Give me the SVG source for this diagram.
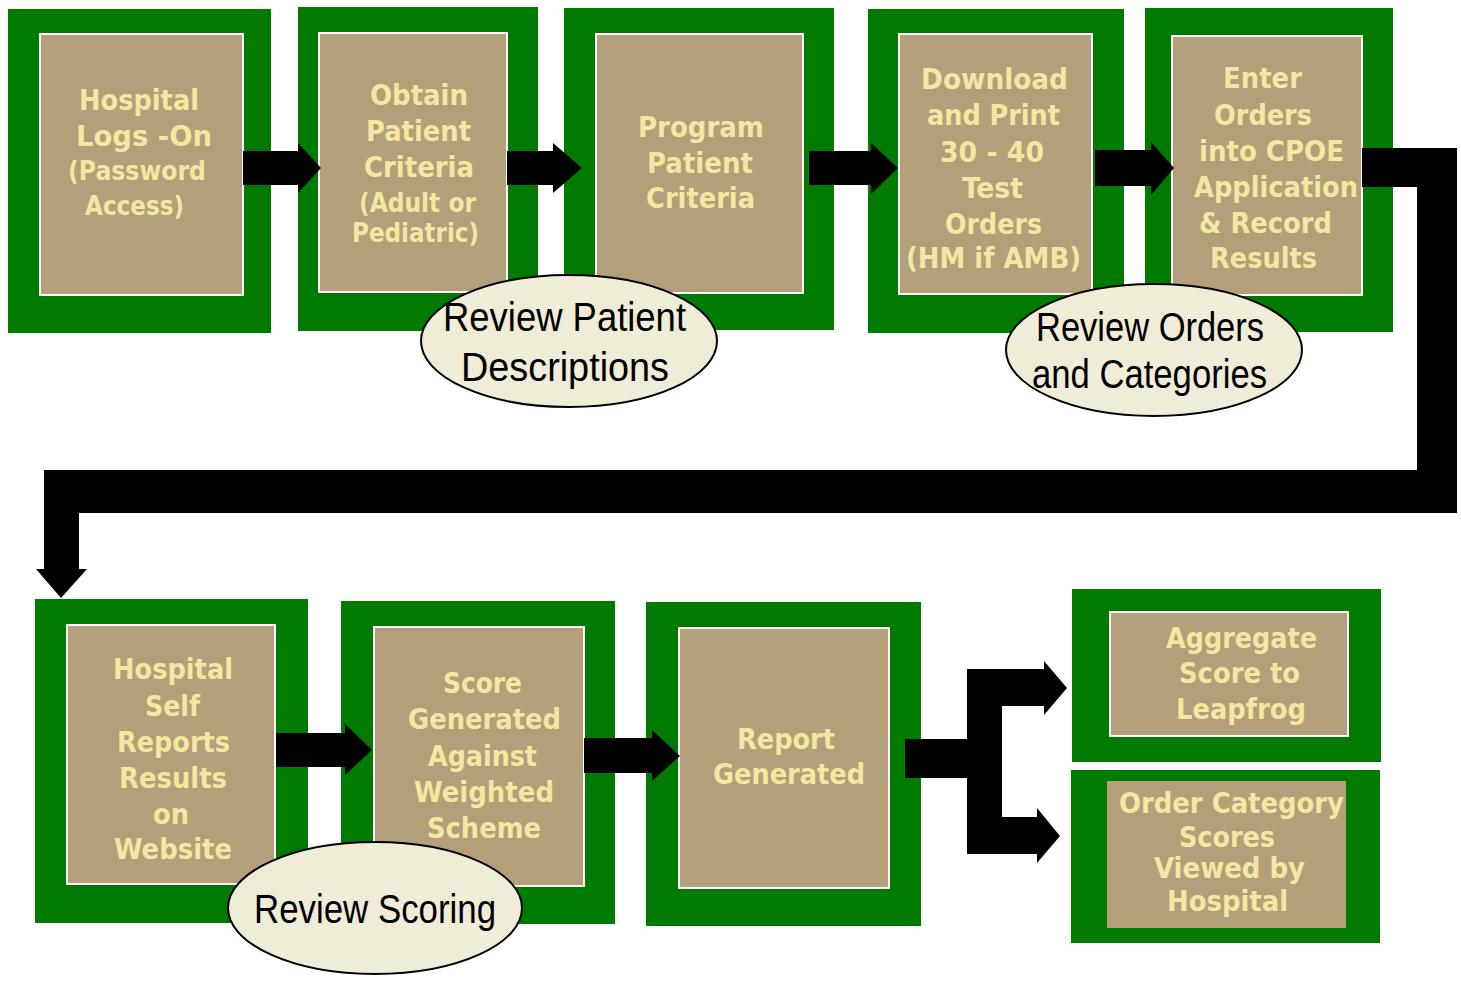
<svg xmlns="http://www.w3.org/2000/svg" width="1461" height="981" viewBox="0 0 1461 981">
  <style>
    .frame { fill: #007B00; }
    .panel { fill: #B39F7A; stroke: #FFFFFF; stroke-width: 2; }
    .panel-plain { fill: #B39F7A; }
    .label { font-family: "DejaVu Sans Condensed", "DejaVu Sans", sans-serif; font-weight: bold; fill: #F2E8A2; font-size: 28px; }
    .small { font-size: 26px; }
    .flow { fill: #000000; }
    .note { fill: #EFEDD8; stroke: #000000; stroke-width: 2; }
    .note-text { font-family: "Liberation Sans", Arial, sans-serif; fill: #000000; font-size: 40px; }
  </style>

  <!-- Process step boxes -->
  <g id="step-login">
    <rect class="frame" x="8" y="9" width="263" height="324"/>
    <rect class="panel" x="40" y="34" width="203" height="261"/>
    <text class="label" x="79" y="110" textLength="120" lengthAdjust="spacingAndGlyphs">Hospital</text>
    <text class="label" x="76" y="146" textLength="136" lengthAdjust="spacingAndGlyphs">Logs  -On</text>
    <text class="label small" x="68" y="180" textLength="138" lengthAdjust="spacingAndGlyphs">(Password</text>
    <text class="label small" x="85" y="215" textLength="99" lengthAdjust="spacingAndGlyphs">Access)</text>
  </g>

  <g id="step-obtain">
    <rect class="frame" x="298" y="7" width="240" height="324"/>
    <rect class="panel" x="319" y="33" width="188" height="259"/>
    <text class="label" x="370" y="105" textLength="98" lengthAdjust="spacingAndGlyphs">Obtain</text>
    <text class="label" x="366" y="141" textLength="105" lengthAdjust="spacingAndGlyphs">Patient</text>
    <text class="label" x="364" y="177" textLength="110" lengthAdjust="spacingAndGlyphs">Criteria</text>
    <text class="label small" x="359" y="212" textLength="117" lengthAdjust="spacingAndGlyphs">(Adult or</text>
    <text class="label small" x="352" y="242" textLength="127" lengthAdjust="spacingAndGlyphs">Pediatric)</text>
  </g>

  <g id="step-program">
    <rect class="frame" x="564" y="8" width="270" height="322"/>
    <rect class="panel" x="596" y="34" width="207" height="259"/>
    <text class="label" x="638" y="137" textLength="126" lengthAdjust="spacingAndGlyphs">Program</text>
    <text class="label" x="647" y="173" textLength="106" lengthAdjust="spacingAndGlyphs">Patient</text>
    <text class="label" x="646" y="208" textLength="109" lengthAdjust="spacingAndGlyphs">Criteria</text>
  </g>

  <g id="step-download">
    <rect class="frame" x="868" y="9" width="256" height="324"/>
    <rect class="panel" x="899" y="34" width="193" height="260"/>
    <text class="label" x="921" y="89" textLength="147" lengthAdjust="spacingAndGlyphs">Download</text>
    <text class="label" x="927" y="125" textLength="133" lengthAdjust="spacingAndGlyphs">and Print</text>
    <text class="label" x="940" y="162" textLength="104" lengthAdjust="spacingAndGlyphs">30 - 40</text>
    <text class="label" x="962" y="198" textLength="61" lengthAdjust="spacingAndGlyphs">Test</text>
    <text class="label" x="945" y="234" textLength="97" lengthAdjust="spacingAndGlyphs">Orders</text>
    <text class="label" x="906" y="268" textLength="175" lengthAdjust="spacingAndGlyphs">(HM if AMB)</text>
  </g>

  <g id="step-enter">
    <rect class="frame" x="1145" y="8" width="248" height="324"/>
    <rect class="panel" x="1172" y="36" width="190" height="259"/>
    <text class="label" x="1223" y="88" textLength="79" lengthAdjust="spacingAndGlyphs">Enter</text>
    <text class="label" x="1214" y="125" textLength="98" lengthAdjust="spacingAndGlyphs">Orders</text>
    <text class="label" x="1199" y="161" textLength="145" lengthAdjust="spacingAndGlyphs">into CPOE</text>
    <text class="label" x="1194" y="197" textLength="164" lengthAdjust="spacingAndGlyphs">Application</text>
    <text class="label" x="1199" y="233" textLength="133" lengthAdjust="spacingAndGlyphs">&amp; Record</text>
    <text class="label" x="1210" y="268" textLength="107" lengthAdjust="spacingAndGlyphs">Results</text>
  </g>

  <g id="step-self-report">
    <rect class="frame" x="35" y="599" width="273" height="324"/>
    <rect class="panel" x="67" y="625" width="208" height="259"/>
    <text class="label" x="113" y="679" textLength="120" lengthAdjust="spacingAndGlyphs">Hospital</text>
    <text class="label" x="145" y="716" textLength="55" lengthAdjust="spacingAndGlyphs">Self</text>
    <text class="label" x="117" y="752" textLength="113" lengthAdjust="spacingAndGlyphs">Reports</text>
    <text class="label" x="119" y="788" textLength="108" lengthAdjust="spacingAndGlyphs">Results</text>
    <text class="label" x="153" y="824" textLength="36" lengthAdjust="spacingAndGlyphs">on</text>
    <text class="label" x="114" y="859" textLength="118" lengthAdjust="spacingAndGlyphs">Website</text>
  </g>

  <g id="step-score">
    <rect class="frame" x="341" y="601" width="274" height="323"/>
    <rect class="panel" x="374" y="627" width="210" height="259"/>
    <text class="label" x="443" y="693" textLength="79" lengthAdjust="spacingAndGlyphs">Score</text>
    <text class="label" x="408" y="729" textLength="153" lengthAdjust="spacingAndGlyphs">Generated</text>
    <text class="label" x="428" y="766" textLength="109" lengthAdjust="spacingAndGlyphs">Against</text>
    <text class="label" x="414" y="802" textLength="140" lengthAdjust="spacingAndGlyphs">Weighted</text>
    <text class="label" x="427" y="838" textLength="114" lengthAdjust="spacingAndGlyphs">Scheme</text>
  </g>

  <g id="step-report">
    <rect class="frame" x="646" y="602" width="275" height="324"/>
    <rect class="panel" x="679" y="628" width="210" height="260"/>
    <text class="label" x="737" y="749" textLength="98" lengthAdjust="spacingAndGlyphs">Report</text>
    <text class="label" x="713" y="784" textLength="152" lengthAdjust="spacingAndGlyphs">Generated</text>
  </g>

  <g id="step-aggregate">
    <rect class="frame" x="1072" y="589" width="309" height="173"/>
    <rect class="panel" x="1110" y="612" width="238" height="124"/>
    <text class="label" x="1166" y="648" textLength="151" lengthAdjust="spacingAndGlyphs">Aggregate</text>
    <text class="label" x="1179" y="683" textLength="121" lengthAdjust="spacingAndGlyphs">Score to</text>
    <text class="label" x="1176" y="719" textLength="130" lengthAdjust="spacingAndGlyphs">Leapfrog</text>
  </g>

  <g id="step-category">
    <rect class="frame" x="1071" y="770" width="309" height="173"/>
    <rect class="panel-plain" x="1107" y="781" width="239" height="147"/>
    <text class="label" x="1119" y="813" textLength="225" lengthAdjust="spacingAndGlyphs">Order Category</text>
    <text class="label" x="1179" y="847" textLength="96" lengthAdjust="spacingAndGlyphs">Scores</text>
    <text class="label" x="1154" y="878" textLength="151" lengthAdjust="spacingAndGlyphs">Viewed by</text>
    <text class="label" x="1167" y="911" textLength="121" lengthAdjust="spacingAndGlyphs">Hospital</text>
  </g>

  <!-- Block arrows between steps -->
  <g id="connectors">
    <polygon class="flow" points="243,151 298,151 298,143 321,168 298,193 298,185 243,185"/>
    <polygon class="flow" points="507,151 553,151 553,143 582,168 553,193 553,185 507,185"/>
    <polygon class="flow" points="809,151 871,151 871,143 898,168 871,194 871,185 809,185"/>
    <polygon class="flow" points="1095,150 1151,150 1151,142 1174,168 1151,195 1151,186 1095,186"/>
    <!-- wrap-around from the top row down to the second row -->
    <polygon class="flow" points="1362,148 1457,148 1457,513 79,513 79,569 87,569 61,598 36,569 44,569 44,470 1417,470 1417,187 1362,187"/>
    <polygon class="flow" points="276,733 345,733 345,724 372,750 345,775 345,767 276,767"/>
    <polygon class="flow" points="584,738 652,738 652,730 680,756 652,781 652,773 584,773"/>
    <!-- split into the two outputs -->
    <polygon class="flow" points="905,739 967,739 967,669 1044,669 1044,661 1067,688 1044,715 1044,706 1002,706 1002,817 1037,817 1037,808 1060,836 1037,863 1037,854 967,854 967,778 905,778"/>
  </g>

  <!-- Review callouts -->
  <g id="review-patient">
    <ellipse class="note" cx="569" cy="341" rx="148" ry="66"/>
    <text class="note-text" x="443" y="331" textLength="243" lengthAdjust="spacingAndGlyphs">Review Patient</text>
    <text class="note-text" x="461" y="381" textLength="208" lengthAdjust="spacingAndGlyphs">Descriptions</text>
  </g>

  <g id="review-orders">
    <ellipse class="note" cx="1154" cy="350" rx="148" ry="66"/>
    <text class="note-text" x="1036" y="341" textLength="228" lengthAdjust="spacingAndGlyphs" font-size="37">Review Orders</text>
    <text class="note-text" x="1032" y="388" textLength="235" lengthAdjust="spacingAndGlyphs" font-size="37">and Categories</text>
  </g>

  <g id="review-scoring">
    <ellipse class="note" cx="375" cy="908" rx="147" ry="66"/>
    <text class="note-text" x="254" y="923" textLength="242" lengthAdjust="spacingAndGlyphs" font-size="39">Review Scoring</text>
  </g>
</svg>
